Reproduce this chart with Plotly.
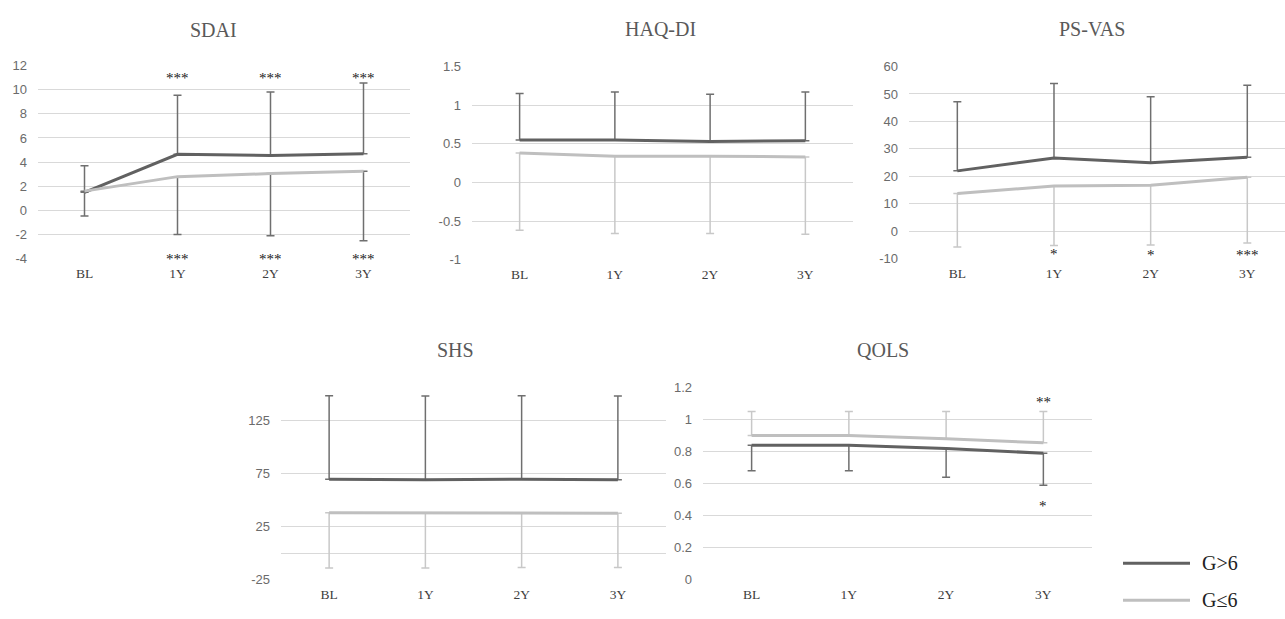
import plotly.graph_objects as go

W, H = 1285, 619

categories = ["BL", "1Y", "2Y", "3Y"]

# SDAI
sdai_hi = [1.5, 4.65, 4.55, 4.7]
sdai_hi_up = [3.7, 9.55, 9.8, 10.55]
sdai_lo = [1.6, 2.8, 3.05, 3.25]
sdai_lo_down = [-0.45, -2.0, -2.1, -2.5]

# HAQ-DI
haq_hi = [0.55, 0.55, 0.53, 0.54]
haq_hi_up = [1.15, 1.17, 1.14, 1.17]
haq_lo = [0.38, 0.34, 0.34, 0.33]
haq_lo_down = [-0.62, -0.66, -0.66, -0.67]

# PS-VAS
vas_hi = [22.0, 26.7, 25.0, 27.0]
vas_hi_up = [47.2, 53.8, 49.0, 53.2]
vas_lo = [13.8, 16.5, 16.8, 19.7]
vas_lo_down = [-5.7, -5.2, -5.0, -4.3]

# SHS
shs_hi = [69.5, 69.0, 69.5, 69.0]
shs_hi_up = [147.7, 147.5, 147.7, 147.5]
shs_lo = [38.0, 38.0, 37.5, 37.5]
shs_lo_down = [-14.0, -14.0, -13.5, -13.5]

# QOLS
qols_hi = [0.84, 0.84, 0.82, 0.79]
qols_hi_down = [0.68, 0.68, 0.64, 0.59]
qols_lo = [0.90, 0.90, 0.88, 0.855]
qols_lo_up = [1.05, 1.05, 1.05, 1.05]

# significance marks: (panel, category, y, text)
stars = [
    ("SDAI", "1Y", 10.99, "***"), ("SDAI", "2Y", 10.99, "***"), ("SDAI", "3Y", 10.99, "***"),
    ("SDAI", "1Y", -4.0, "***"), ("SDAI", "2Y", -4.0, "***"), ("SDAI", "3Y", -4.0, "***"),
    ("PS-VAS", "1Y", -8.3, "*"), ("PS-VAS", "2Y", -8.75, "*"), ("PS-VAS", "3Y", -8.75, "***"),
    ("QOLS", "3Y", 1.11, "**"), ("QOLS", "3Y", 0.458, "*"),
]

series_names = ["G>6", "G≤6"]

DARK = "#616161"
LIGHT = "#bfbfbf"
ERR_DARK = "#6f6f6f"
ERR_LIGHT = "#c8c8c8"
GRID = "#d9d9d9"

# panel geometry in pixels
panels = {
    "SDAI":   dict(px=(38, 410), py=(60, 258), yr=[-4, 12], xr=[-0.5, 3.5],
                   tv=[-4, -2, 0, 2, 4, 6, 8, 10, 12], title=(213, 24)),
    "HAQ-DI": dict(px=(472, 853), py=(61, 259), yr=[-1, 1.5], xr=[-0.5, 3.5],
                   tv=[-1, -0.5, 0, 0.5, 1, 1.5], title=(661, 23)),
    "PS-VAS": dict(px=(909, 1285), py=(61, 258), yr=[-10, 60], xr=[-0.5, 3.39],
                   tv=[-10, 0, 10, 20, 30, 40, 50, 60], title=(1092, 23)),
    "SHS":    dict(px=(281, 666), py=(396, 587), yr=[-25, 150], xr=[-0.5, 3.5],
                   tv=[-25, 25, 75, 125], title=(455, 352)),
    "QOLS":   dict(px=(703, 1092), py=(390, 587), yr=[0, 1.2], xr=[-0.5, 3.5],
                   tv=[0, 0.2, 0.4, 0.6, 0.8, 1, 1.2], title=(883, 352)),
}

data_map = {
    "SDAI": (sdai_hi, sdai_hi_up, "up", sdai_lo, sdai_lo_down, "down", ERR_DARK, ERR_DARK),
    "HAQ-DI": (haq_hi, haq_hi_up, "up", haq_lo, haq_lo_down, "down", ERR_DARK, ERR_LIGHT),
    "PS-VAS": (vas_hi, vas_hi_up, "up", vas_lo, vas_lo_down, "down", ERR_DARK, ERR_LIGHT),
    "SHS": (shs_hi, shs_hi_up, "up", shs_lo, shs_lo_down, "down", ERR_DARK, ERR_LIGHT),
    "QOLS": (qols_hi, qols_hi_down, "down", qols_lo, qols_lo_up, "up", ERR_DARK, ERR_LIGHT),
}

fig = go.Figure()
layout = dict(width=W, height=H, margin=dict(l=0, r=0, t=0, b=0),
              paper_bgcolor="white", plot_bgcolor="white", showlegend=False)

annotations = []
shapes = []
axis_ids = {}
for i, (name, p) in enumerate(panels.items()):
    n = "" if i == 0 else str(i + 1)
    xa, ya = "x" + n, "y" + n
    axis_ids[name] = (xa, ya)
    x0, x1 = p["px"]
    yt, yb = p["py"]
    layout["xaxis" + n] = dict(
        domain=[x0 / W, x1 / W], anchor=ya, type="category",
        range=p["xr"], showgrid=False, zeroline=False, showline=False,
        ticks="", ticklabelstandoff=5,
        tickfont=dict(family="Liberation Serif", size=13.5, color="#404040"),
        fixedrange=True)
    layout["yaxis" + n] = dict(
        domain=[1 - yb / H, 1 - yt / H], anchor=xa, range=p["yr"],
        tickvals=p["tv"], ticktext=["%g" % v for v in p["tv"]],
        showgrid=True, gridcolor=GRID, gridwidth=1,
        zeroline=(name == "SHS"), zerolinecolor=GRID, zerolinewidth=1,
        showline=False, ticks="", ticklabelstandoff=10,
        tickfont=dict(family="Liberation Sans", size=13, color="#6b6b6b"),
        fixedrange=True)

    hi, hi_b, hi_dir, lo, lo_b, lo_dir, ec_hi, ec_lo = data_map[name]
    for vals, bound, direction, color, ecol, sname in [
        (hi, hi_b, hi_dir, DARK, ec_hi, series_names[0]),
        (lo, lo_b, lo_dir, LIGHT, ec_lo, series_names[1]),
    ]:
        if direction == "up":
            plus = [b - v for v, b in zip(vals, bound)]
            minus = [0] * len(vals)
        else:
            plus = [0] * len(vals)
            minus = [v - b for v, b in zip(vals, bound)]
        fig.add_trace(go.Scatter(
            x=categories, y=vals, mode="lines", name=sname,
            line=dict(color=color, width=3),
            error_y=dict(type="data", symmetric=False, array=plus, arrayminus=minus,
                         color=ecol, thickness=1.5, width=4),
            xaxis=xa, yaxis=ya, hoverinfo="skip"))

    tx, ty = p["title"]
    annotations.append(dict(
        x=tx / W, y=1 - ty / H, xref="paper", yref="paper", text=name,
        showarrow=False, xanchor="center", yanchor="middle",
        font=dict(family="Liberation Serif", size=20, color="#595959")))

for pname, cat, yv, txt in stars:
    xa, ya = axis_ids[pname]
    annotations.append(dict(
        x=cat, y=yv, xref=xa, yref=ya, text=txt, showarrow=False,
        xanchor="center", yanchor="middle", height=10,
        font=dict(family="Liberation Serif", size=15, color="#1a1a1a")))

# legend
legend_rows = [(series_names[0], DARK, 570), (series_names[1], LIGHT, 608)]
for label, color, yy in legend_rows:
    shapes.append(dict(type="line", xref="paper", yref="paper",
                       x0=1123 / W, x1=1190 / W, y0=1 - yy / H, y1=1 - yy / H,
                       line=dict(color=color, width=3)))
    annotations.append(dict(x=1200 / W, y=1 - yy / H, xref="paper", yref="paper",
                            text=label, showarrow=False, xanchor="left", yanchor="middle",
                            font=dict(family="Liberation Serif", size=20, color="#222222")))

layout["annotations"] = annotations
layout["shapes"] = shapes
fig.update_layout(**layout)
fig.write_html("out.html")
